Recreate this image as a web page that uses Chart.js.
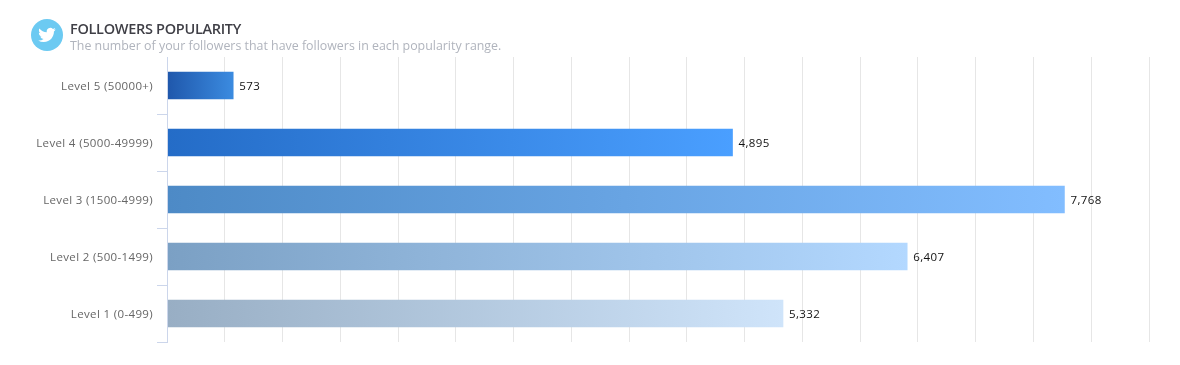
<!DOCTYPE html>
<html><head><meta charset="utf-8">
<script src="https://cdn.jsdelivr.net/npm/chart.js@4"></script>
<style>
html,body{margin:0;padding:0;background:#fff;width:1180px;height:365px;overflow:hidden}
#wrap{position:relative;width:1180px;height:365px}
canvas{position:absolute;left:0;top:0}
#icon{position:absolute;left:31px;top:19px;width:32px;height:32px}
.t{position:absolute;left:70px;white-space:nowrap;font-family:"Open Sans",sans-serif}
#title{top:20px;font-size:14.5px;line-height:18px;color:#3f3f46;letter-spacing:-.3px;font-weight:600}
#sub{top:37px;font-size:12.4px;line-height:17px;color:#b0b4bd}
</style></head><body>
<div id="wrap">
<canvas id="c" width="1180" height="365"></canvas>
<svg id="icon" viewBox="0 0 32 32"><circle cx="16" cy="16" r="16" fill="#6ccaf2"/><g transform="translate(7.2 7.2) scale(.73)"><path fill="#fff" d="M23.953 4.57a10 10 0 01-2.825.775 4.958 4.958 0 002.163-2.723c-.951.555-2.005.959-3.127 1.184a4.92 4.92 0 00-8.384 4.482C7.69 8.095 4.067 6.13 1.64 3.162a4.822 4.822 0 00-.666 2.475c0 1.71.87 3.213 2.188 4.096a4.904 4.904 0 01-2.228-.616v.06a4.923 4.923 0 003.946 4.827 4.996 4.996 0 01-2.212.085 4.936 4.936 0 004.604 3.417 9.867 9.867 0 01-6.102 2.105c-.39 0-.779-.023-1.17-.067a13.995 13.995 0 007.557 2.209c9.053 0 13.998-7.496 13.998-13.985 0-.21 0-.42-.015-.63A9.935 9.935 0 0024 4.59z"/></g></svg>
<div class="t" id="title">FOLLOWERS POPULARITY</div>
<div class="t" id="sub">The number of your followers that have followers in each popularity range.</div>
</div>
<script>
const categories = ["Level 5 (50000+)","Level 4 (5000-49999)","Level 3 (1500-4999)","Level 2 (500-1499)","Level 1 (0-499)"];
const followers = [573,4895,7768,6407,5332];
const gradientStart = ["#1f57ab","#246cc7","#4d8ac6","#7ba0c4","#98aec4"];
const gradientEnd = ["#3b8be0","#4a9fff","#82bdff","#b3d8ff","#cfe4fa"];
const FONT = '"Open Sans", sans-serif';

const valueLabels = {
  id:'valueLabels',
  beforeDraw(chart){ chart.ctx.letterSpacing='.35px'; },
  afterDatasetsDraw(chart){
    const {ctx}=chart, meta=chart.getDatasetMeta(0);
    ctx.save();
    ctx.font='11.5px '+FONT; ctx.fillStyle='#111'; ctx.textAlign='left'; ctx.textBaseline='middle';
    ctx.letterSpacing='.4px';
    meta.data.forEach((b,i)=>ctx.fillText(followers[i].toLocaleString('en-US'),b.x+6,b.y+1));
    ctx.restore();
  }
};
new Chart(document.getElementById('c'),{
  type:'bar',
  data:{labels:categories,datasets:[{
    data:followers,
    barThickness:27,
    backgroundColor(c){
      const {chart,dataIndex:i}=c, sx=chart.scales.x;
      if(!sx||i===undefined) return gradientStart[0];
      const x0=sx.getPixelForValue(0), x1=sx.getPixelForValue(followers[i]);
      if(!isFinite(x0)||!isFinite(x1)) return gradientStart[i];
      const g=chart.ctx.createLinearGradient(x0,0,x1,0);
      g.addColorStop(0,gradientStart[i]); g.addColorStop(1,gradientEnd[i]);
      return g;
    }
  }]},
  plugins:[valueLabels],
  options:{
    indexAxis:'y',responsive:false,animation:false,events:[],
    layout:{padding:{top:57,bottom:23,right:31,left:0}},
    plugins:{legend:{display:false},title:{display:false},tooltip:{enabled:false}},
    scales:{
      x:{min:0,max:8500,position:'bottom',
        ticks:{display:false,stepSize:500},
        grid:{color:'#e6e6e6',lineWidth:1,drawTicks:false},
        border:{display:false}},
      y:{afterFit(s){s.width=167},
        ticks:{color:'#666',font:{family:FONT,size:11.5},padding:4,labelOffset:.8},
        grid:{z:1,drawOnChartArea:false,drawTicks:true,tickLength:10,offset:true,
          color:c=>c.index===0?'rgba(0,0,0,0)':'#ccd6eb'},
        border:{display:true,color:'#ccd6eb',width:1,z:1}}
    }
  }
});
</script>
</body></html>
